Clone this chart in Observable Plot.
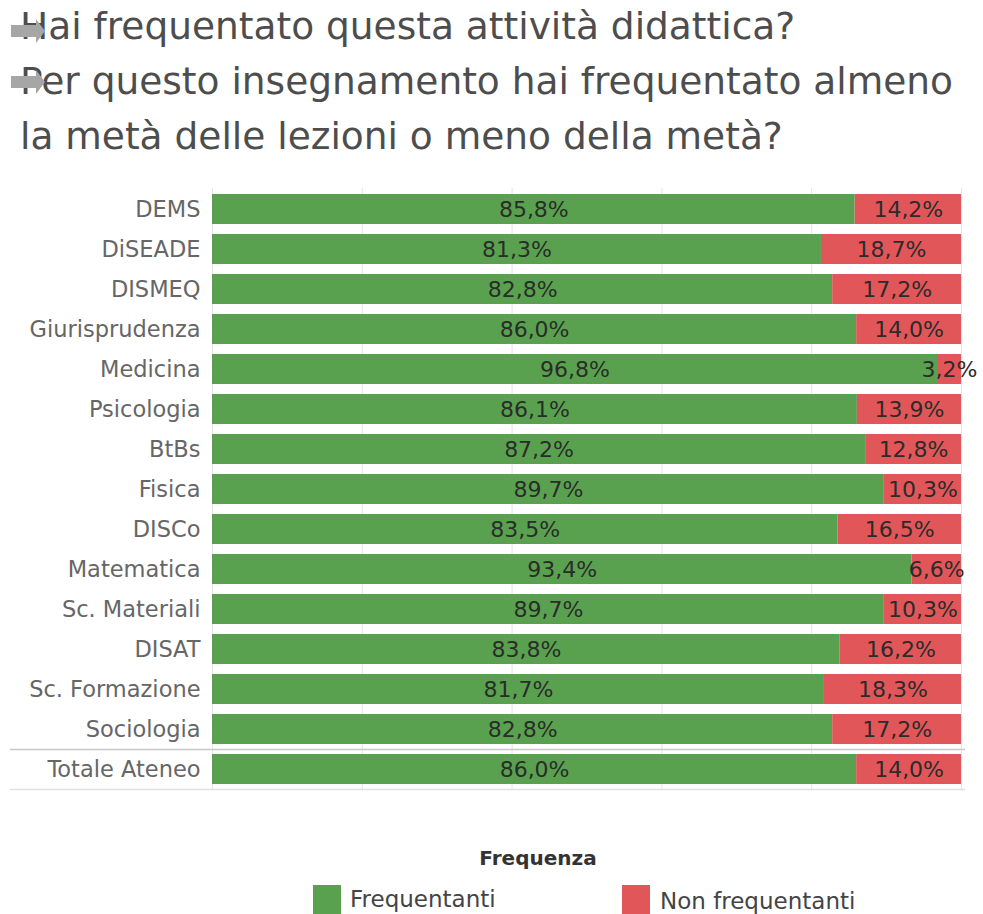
<!DOCTYPE html>
<html>
<head>
<meta charset="utf-8">
<script src="https://cdn.jsdelivr.net/npm/d3@7"></script>
<script src="https://cdn.jsdelivr.net/npm/@observablehq/plot@0.6"></script>
<style>
  html, body { margin: 0; padding: 0; background: #fff; overflow: hidden; }
  #wrap { position: relative; width: 983px; height: 914px; font-family: "DejaVu Sans", sans-serif; }
  .title { position: absolute; left: 20px; font-size: 37.5px; color: #4d4d4d; white-space: nowrap; line-height: 1; }
  .arrow { position: absolute; }
  #chart { position: absolute; left: 0; top: 170px; }
  .legend-title { position: absolute; top: 846px; left: 0; width: 1076px; text-align: center; font-size: 20px; font-weight: bold; color: #333; }
  .sw { position: absolute; width: 28px; height: 32px; }
  .lt { position: absolute; font-size: 23px; color: #444; white-space: nowrap; }
</style>
</head>
<body>
<div id="wrap">
  <div class="title" style="top:8px">Hai frequentato questa attività didattica?</div>
  <div class="title" style="top:63px">Per questo insegnamento hai frequentato almeno</div>
  <div class="title" style="top:118px">la metà delle lezioni o meno della metà?</div>
  <svg class="arrow" style="left:10px;top:19px" width="36" height="26"><path d="M1,6 H26 V0 L35,12 L26,24 V18 H1 Z" fill="#a6a6a6"/></svg>
  <svg class="arrow" style="left:10px;top:70px" width="36" height="26"><path d="M1,6 H26 V0 L35,12 L26,24 V18 H1 Z" fill="#a6a6a6"/></svg>
  <div id="chart"></div>
  <div class="legend-title">Frequenza</div>
  <div class="sw" style="left:313px;top:885px;background:#59A14F"></div>
  <div class="lt" style="left:350px;top:886px">Frequentanti</div>
  <div class="sw" style="left:622px;top:885px;background:#E15759"></div>
  <div class="lt" style="left:660px;top:888px">Non frequentanti</div>
</div>
<script>
const categories = ["DEMS","DiSEADE","DISMEQ","Giurisprudenza","Medicina","Psicologia","BtBs","Fisica","DISCo","Matematica","Sc. Materiali","DISAT","Sc. Formazione","Sociologia","Totale Ateneo"];
const frequentanti = [85.8,81.3,82.8,86.0,96.8,86.1,87.2,89.7,83.5,93.4,89.7,83.8,81.7,82.8,86.0];
const nonFrequentanti = [14.2,18.7,17.2,14.0,3.2,13.9,12.8,10.3,16.5,6.6,10.3,16.2,18.3,17.2,14.0];
const series = ["Frequentanti","Non frequentanti"];
const colors = ["#59A14F","#E15759"];
const gridTicks = [0,20,40,60,80,100];

const fmt = v => v.toFixed(1).replace(".", ",") + "%";
const rows = [];
categories.forEach((c, i) => {
  rows.push({dept: c, serie: series[0], x1: 0, x2: frequentanti[i], v: frequentanti[i]});
  rows.push({dept: c, serie: series[1], x1: frequentanti[i], x2: frequentanti[i] + nonFrequentanti[i], v: nonFrequentanti[i]});
});

const chart = Plot.plot({
  width: 983,
  height: 629,
  marginTop: 18,
  marginBottom: 10,
  marginLeft: 212,
  marginRight: 22,
  style: {fontFamily: "DejaVu Sans, sans-serif", background: "#fff", overflow: "visible"},
  x: {domain: [0, 100], axis: null},
  y: {domain: categories, paddingInner: 0.25, paddingOuter: 0.125, label: null},
  color: {domain: series, range: colors},
  marks: [
    Plot.gridX(gridTicks, {stroke: "#e4e4e4", strokeOpacity: 1}),
    Plot.barX(rows, {y: "dept", x1: "x1", x2: "x2", fill: "serie"}),
    Plot.ruleY(["Totale Ateneo"], {dy: -20, insetLeft: -202, insetRight: -4, stroke: "#c8c8c8", strokeWidth: 1.5}),
    Plot.ruleY(["Totale Ateneo"], {dy: 20, insetLeft: -202, insetRight: -4, stroke: "#e0e0e0", strokeWidth: 1.5}),
    Plot.text(rows, {y: "dept", x: d => (d.x1 + d.x2) / 2, text: d => fmt(d.v), fill: "#2b2b2b", fontSize: 22}),
    Plot.axisY({tickSize: 0, tickPadding: 12, fontSize: 22.5, fill: "#666", label: null})
  ]
});
document.getElementById("chart").appendChild(chart);
</script>
</body>
</html>
